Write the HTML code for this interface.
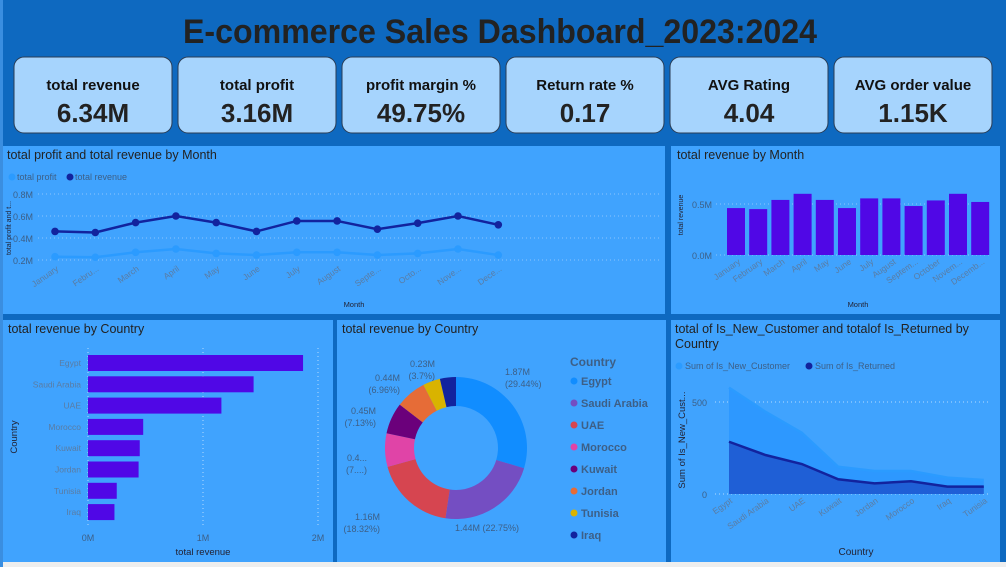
<!DOCTYPE html>
<html><head><meta charset="utf-8"><style>
body{margin:0;background:#0e69c0;}
svg{display:block;font-family:"Liberation Sans",sans-serif;}
</style></head><body>
<svg id="s" width="1006" height="567" viewBox="0 0 1006 567">
<rect x="0" y="0" width="1006" height="567" fill="#0e69c0"/>
<rect x="0" y="562" width="1006" height="5" fill="#eeeeee"/>
<rect x="0" y="0" width="3" height="567" fill="#3a8ee0"/>
<text x="500" y="43" text-anchor="middle" font-size="34" font-weight="bold" fill="#222" textLength="634" lengthAdjust="spacingAndGlyphs">E-commerce Sales Dashboard_2023:2024</text>
<g id="kpis"></g>
<rect x="3" y="146" width="662" height="168" fill="#40a3fe"/>
<rect x="671" y="146" width="329" height="168" fill="#40a3fe"/>
<rect x="3" y="320" width="330" height="242" fill="#40a3fe"/>
<rect x="337" y="320" width="329" height="242" fill="#40a3fe"/>
<rect x="671" y="320" width="329" height="242" fill="#40a3fe"/>
<g font-size="12.5" fill="#222">
<text x="7" y="159">total profit and total revenue by Month</text>
<text x="677" y="159">total revenue by Month</text>
<text x="8" y="333">total revenue by Country</text>
<text x="342" y="333">total revenue by Country</text>
<text x="675" y="333">total of Is_New_Customer and totalof Is_Returned by</text>
<text x="675" y="348">Country</text>
</g>
<g id="g"></g>
</svg>
<script>
const kpiLabels=["total revenue","total profit","profit margin %","Return rate %","AVG Rating","AVG order value"];
const kpiValues=["6.34M","3.16M","49.75%","0.17","4.04","1.15K"];
const months=["January","February","March","April","May","June","July","August","September","October","November","December"];
const monthShort=["January","Febru...","March","April","May","June","July","August","Septe...","Octo...","Nove...","Dece..."];
const revenue=[0.46,0.45,0.54,0.60,0.54,0.46,0.555,0.555,0.48,0.535,0.60,0.52];
const profit=[0.23,0.225,0.27,0.30,0.26,0.245,0.27,0.27,0.245,0.26,0.30,0.245];
const countries=["Egypt","Saudi Arabia","UAE","Morocco","Kuwait","Jordan","Tunisia","Iraq"];
const countryRevenue=[1.87,1.44,1.16,0.48,0.45,0.44,0.25,0.23];
const donutLabels=["1.87M|(29.44%)","1.44M (22.75%)","1.16M|(18.32%)","0.4...|(7....)","0.45M|(7.13%)","0.44M|(6.96%)","0.23M|(3.7%)",""];
const donutColors=["#118dff","#744ec2","#d64550","#e044a7","#6b007b","#e66c37","#d9b300","#12239e"];
const areaCountries=["Egypt","Saudi Arabia","UAE","Kuwait","Jordan","Morocco","Iraq","Tunisia"];
const newCust=[578,447,333,148,125,125,89,76];
const returned=[284,212,163,80,58,69,40,40];
const NS="http://www.w3.org/2000/svg";
const G=document.getElementById('g');
function el(tag,attrs,parent,txt){const e=document.createElementNS(NS,tag);for(const k in attrs)e.setAttribute(k,attrs[k]);if(txt!==undefined)e.textContent=txt;(parent||G).appendChild(e);return e;}
const K=document.getElementById('kpis');
kpiLabels.forEach((l,i)=>{const x=14+i*164;
const r=el('rect',{x:x,y:57,width:158,height:76,rx:10,fill:'#a6d4fd',stroke:'#2a3d55','stroke-width':1},K);

const t=el('text',{x:x+79,y:90,'text-anchor':'middle','font-size':15,'font-weight':'bold',fill:'#111'},K,l);

const v=el('text',{x:x+79,y:122,'text-anchor':'middle','font-size':26,'font-weight':'bold',fill:'#222'},K,kpiValues[i]);
});
const axisC='#3d5f86';
const lx=i=>55+i*40.3, ly=v=>282-v*110;
el('circle',{cx:12,cy:177,r:3.5,fill:'#2b9bff'});el('text',{x:17,y:180,'font-size':9,fill:'#3d5f86'},G,'total profit');
el('circle',{cx:70,cy:177,r:3.5,fill:'#12239e'});el('text',{x:75,y:180,'font-size':9,fill:'#3d5f86'},G,'total revenue');
[0.2,0.4,0.6,0.8].forEach(v=>{el('line',{x1:38,x2:660,y1:ly(v),y2:ly(v),stroke:'#8cc6ff','stroke-dasharray':'1 3'});
const t=el('text',{x:33,y:ly(v)+4,'text-anchor':'end','font-size':9,fill:axisC},G,v.toFixed(1)+'M');});
el('text',{x:11,y:228,'font-size':7,fill:'#223','text-anchor':'middle',transform:'rotate(-90 11 228)'},G,'total profit and t...');
monthShort.forEach((m,i)=>{const t=el('text',{x:lx(i)+4,y:270,'font-size':8.5,fill:'#5a7ca3','text-anchor':'end',transform:`rotate(-35 ${lx(i)+4} 270)`},G,m);});
el('text',{x:354,y:307,'font-size':7.5,fill:'#223','text-anchor':'middle'},G,'Month');
[[profit,'#2b9bff','profit-line'],[revenue,'#12239e','revenue-line']].forEach(([arr,c,n])=>{
const p=el('polyline',{points:arr.map((v,i)=>lx(i)+','+ly(v)).join(' '),fill:'none',stroke:c,'stroke-width':2.5});
arr.forEach((v,i)=>{const d=el('circle',{cx:lx(i),cy:ly(v),r:3.8,fill:c});});});
const bx=i=>736+i*22.2, by=v=>255-v*102;
[0,0.5].forEach(v=>{el('line',{x1:716,x2:990,y1:by(v),y2:by(v),stroke:'#8cc6ff','stroke-dasharray':'1 3'});
el('text',{x:712,y:by(v)+4,'text-anchor':'end','font-size':9,fill:axisC},G,v.toFixed(1)+'M');});
el('text',{x:683,y:215,'font-size':7,fill:'#223','text-anchor':'middle',transform:'rotate(-90 683 215)'},G,'total revenue');
revenue.forEach((v,i)=>{const r=el('rect',{x:bx(i)-9,y:by(v),width:18,height:by(0)-by(v),fill:'#5007e6'});});
const mShort2=["January","February","March","April","May","June","July","August","Septem...","October","Novem...","Decemb..."];
mShort2.forEach((m,i)=>{el('text',{x:bx(i)+5,y:263,'font-size':8.5,fill:'#5a7ca3','text-anchor':'end',transform:`rotate(-35 ${bx(i)+5} 263)`},G,m);});
el('text',{x:858,y:307,'font-size':7.5,fill:'#223','text-anchor':'middle'},G,'Month');
const cx0=88, cxs=115, cy=i=>363+i*21.3;
[0,1,2].forEach(v=>{el('line',{x1:cx0+v*cxs,x2:cx0+v*cxs,y1:348,y2:528,stroke:'#b5dbff','stroke-dasharray':'1 3'});
el('text',{x:cx0+v*cxs,y:541,'text-anchor':'middle','font-size':9,fill:axisC},G,v+'M');});
countries.forEach((c,i)=>{const r=el('rect',{x:cx0,y:cy(i)-8,width:countryRevenue[i]*cxs,height:16,fill:'#5007e6'});
el('text',{x:81,y:cy(i)+3,'text-anchor':'end','font-size':8.5,fill:'#5a7ca3'},G,c);});
el('text',{x:203,y:555,'text-anchor':'middle','font-size':9.5,fill:'#223'},G,'total revenue');
el('text',{x:17,y:437,'text-anchor':'middle','font-size':9.5,fill:'#223',transform:'rotate(-90 17 437)'},G,'Country');
const dcx=456,dcy=448,R=71,r0=42;const tot=countryRevenue.reduce((a,b)=>a+b,0);let a0=-Math.PI/2;
countryRevenue.forEach((v,i)=>{const a1=a0+v/tot*2*Math.PI;const lg=(a1-a0)>Math.PI?1:0;
const P=(a,r)=>[dcx+r*Math.cos(a),dcy+r*Math.sin(a)];const [x1,y1]=P(a0,R),[x2,y2]=P(a1,R),[x3,y3]=P(a1,r0),[x4,y4]=P(a0,r0);
const p=el('path',{d:`M${x1},${y1}A${R},${R} 0 ${lg} 1 ${x2},${y2}L${x3},${y3}A${r0},${r0} 0 ${lg} 0 ${x4},${y4}Z`,fill:donutColors[i]});
a0=a1;});
const dl=[[505,375,'start'],[455,531,'start'],[380,520,'end'],[367,461,'end'],[376,414,'end'],[400,381,'end'],[435,367,'end']];
donutLabels.forEach((t,i)=>{if(!t||!dl[i])return;const [x,y,an]=dl[i];const parts=t.split('|');
parts.forEach((s,k)=>{el('text',{x:x,y:y+k*12,'text-anchor':an,'font-size':9,fill:'#3d5f86'},G,s);});});
el('text',{x:570,y:366,'font-size':12,'font-weight':'bold',fill:'#3d5f86'},G,'Country');
countries.forEach((c,i)=>{const y=381+i*22;el('circle',{cx:574,cy:y,r:3.5,fill:donutColors[i]});
const t=el('text',{x:581,y:y+4,'font-size':11,'font-weight':'bold',fill:'#3d5f86'},G,c);});
const ax=i=>729+i*36.4, ay=v=>494-v*0.184;
el('circle',{cx:679,cy:366,r:3.5,fill:'#2b9bff'});el('text',{x:685,y:369,'font-size':9,fill:'#3d5f86'},G,'Sum of Is_New_Customer');
el('circle',{cx:809,cy:366,r:3.5,fill:'#12239e'});el('text',{x:815,y:369,'font-size':9,fill:'#3d5f86'},G,'Sum of Is_Returned');
[0,500].forEach(v=>{el('line',{x1:715,x2:990,y1:ay(v),y2:ay(v),stroke:'#b5dbff','stroke-dasharray':'1 3'});
el('text',{x:707,y:ay(v)+4,'text-anchor':'end','font-size':9,fill:axisC},G,v);});
el('text',{x:685,y:440,'font-size':9.5,fill:'#223','text-anchor':'middle',transform:'rotate(-90 685 440)'},G,'Sum of Is_New_Cust...');
[[newCust,'#2d98ff','#2b9bff','new-customer-area'],[returned,'#1f5fd6','#12239e','returned-area']].forEach(([arr,f,s,n])=>{
const pts=arr.map((v,i)=>ax(i)+','+ay(v)).join(' ');
const a=el('polygon',{points:`${ax(0)},${ay(0)} ${pts} ${ax(arr.length-1)},${ay(0)}`,fill:f});
el('polyline',{points:pts,fill:'none',stroke:s,'stroke-width':2.5});});
areaCountries.forEach((c,i)=>{el('text',{x:ax(i)+4,y:502,'font-size':8.5,fill:'#5a7ca3','text-anchor':'end',transform:`rotate(-35 ${ax(i)+4} 502)`},G,c);});
el('text',{x:856,y:555,'text-anchor':'middle','font-size':10,fill:'#223'},G,'Country');
</script>
</body></html>
